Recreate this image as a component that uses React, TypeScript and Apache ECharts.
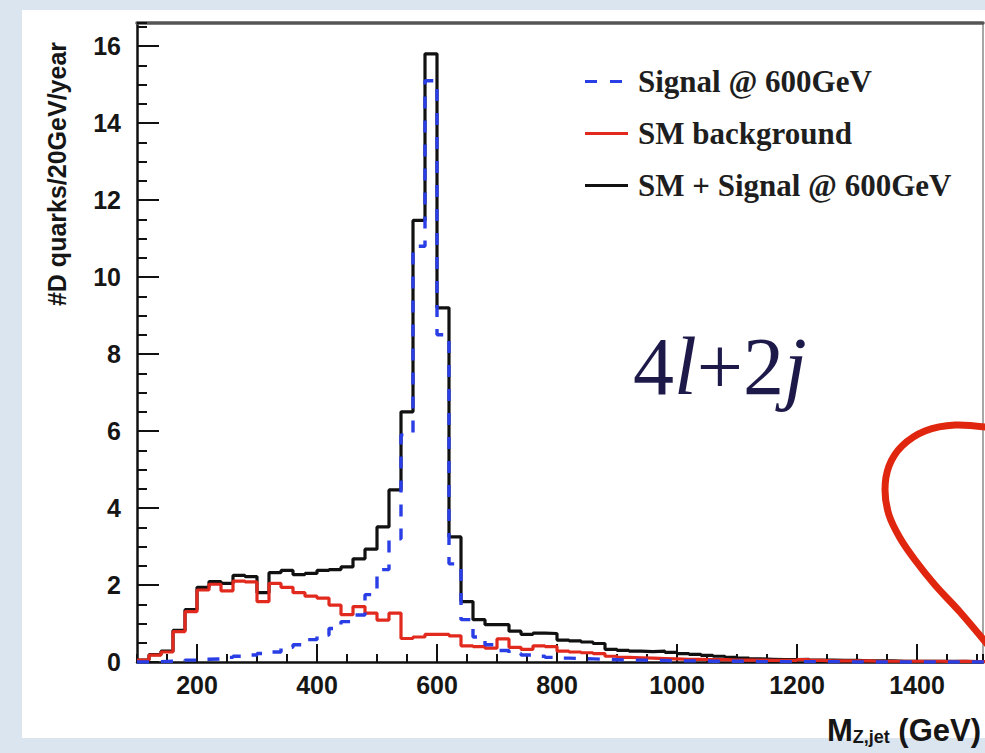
import React, { useEffect, useRef } from "react";
import * as echarts from "echarts";

// Histogram binning: 20 GeV bins starting at 100 GeV
const BIN_LOW = 100;
const BIN_WIDTH = 20;

// SM + Signal @ 600GeV (black)
const totalValues = [
  0.05, 0.19, 0.28, 0.82, 1.36, 1.94, 2.09, 2.04, 2.25, 2.22,
  1.8, 2.32, 2.38, 2.27, 2.3, 2.38, 2.4, 2.47, 2.68, 2.93,
  3.51, 4.47, 6.5, 11.47, 15.8, 9.2, 3.25, 1.57, 1.1, 0.97,
  0.97, 0.8, 0.72, 0.75, 0.74, 0.57, 0.55, 0.52, 0.48, 0.33,
  0.3, 0.28, 0.27, 0.28, 0.25, 0.22, 0.2, 0.17, 0.15, 0.12,
  0.1, 0.08, 0.07, 0.06, 0.06, 0.07, 0.05, 0.05, 0.04, 0.04,
  0.03, 0.03, 0.03, 0.02, 0.02, 0.02, 0.02, 0.02, 0.02, 0.01, 0.01,
];

// SM background (red)
const backgroundValues = [
  0.05, 0.18, 0.26, 0.79, 1.31, 1.87, 2.02, 1.85, 2.1, 2.08,
  1.57, 2.04, 1.94, 1.8, 1.71, 1.66, 1.48, 1.23, 1.44, 1.27,
  1.09, 1.27, 0.61, 0.65, 0.72, 0.72, 0.68, 0.42, 0.4, 0.36,
  0.6, 0.38, 0.33, 0.42, 0.4, 0.28, 0.26, 0.24, 0.22, 0.15,
  0.12, 0.11, 0.1, 0.09, 0.08, 0.07, 0.07, 0.06, 0.06, 0.05,
  0.05, 0.05, 0.04, 0.04, 0.04, 0.06, 0.04, 0.03, 0.03, 0.03,
  0.03, 0.02, 0.02, 0.02, 0.02, 0.02, 0.02, 0.01, 0.02, 0.01, 0.01,
];

// Signal @ 600GeV (blue dashed)
const signalValues = [
  0.0, 0.01, 0.02, 0.03, 0.05, 0.07, 0.08, 0.12, 0.15, 0.18,
  0.22, 0.26, 0.38, 0.45, 0.58, 0.7, 0.87, 1.05, 1.22, 1.75,
  2.4, 3.2, 5.9, 10.8, 15.1, 8.5, 2.55, 1.1, 0.65, 0.45,
  0.3, 0.22, 0.18, 0.15, 0.12, 0.1, 0.09, 0.08, 0.07, 0.06,
  0.05, 0.05, 0.04, 0.04, 0.03, 0.03, 0.03, 0.02, 0.02, 0.02,
  0.02, 0.01, 0.01, 0.01, 0.01, 0.01, 0.01, 0.01, 0.01, 0.0,
  0.0, 0.0, 0.0, 0.0, 0.0, 0.0, 0.0, 0.0, 0.0, 0.0, 0.0,
];

const xMajorTicks = [200, 400, 600, 800, 1000, 1200, 1400];
const yMajorTicks = [0, 2, 4, 6, 8, 10, 12, 14, 16];

const seriesNames = ["Signal @ 600GeV", "SM background", "SM + Signal @ 600GeV"];

const X_MIN = 100;
const X_MAX = 1510;
const Y_MIN = 0;
const Y_MAX = 16.6;

function toSteps(values: number[]): number[][] {
  const pts = values.map((v, i) => [BIN_LOW + i * BIN_WIDTH, v]);
  pts.push([BIN_LOW + values.length * BIN_WIDTH, values[values.length - 1]]);
  return pts;
}

const LABEL_FONT = "'Liberation Sans', Arial, sans-serif";
const SERIF = "'Liberation Serif', 'Times New Roman', serif";

const SOLID_ICON = "path://M0,0h43v3.2h-43z";
const DASHED_ICON = "path://M0,0h12v3.2h-12z M25,0h12v3.2h-12z M42.99,0h0.01v0.01h-0.01z";

function buildOption(): any {
  const labelStyle = {
    fontFamily: LABEL_FONT,
    fontWeight: "bold",
    fontSize: 25,
    color: "#161616",
  };
  return {
    animation: false,
    backgroundColor: "#dbe5ef",
    grid: { left: 137, top: 23, right: 2, bottom: 91, containLabel: false },
    legend: {
      orient: "vertical",
      left: 580,
      top: 61,
      padding: 5,
      itemWidth: 43,
      itemHeight: 30,
      itemGap: 21,
      symbolKeepAspect: true,
      data: [
        { name: seriesNames[0], icon: DASHED_ICON },
        { name: seriesNames[1], icon: SOLID_ICON },
        { name: seriesNames[2], icon: SOLID_ICON },
      ],
      textStyle: {
        fontFamily: SERIF,
        fontWeight: "bold",
        fontSize: 31,
        color: "#1e1e1e",
        padding: [0, 0, 0, 5],
      },
    },
    xAxis: [
      {
        type: "value",
        min: X_MIN,
        max: X_MAX,
        interval: 50,
        position: "bottom",
        axisLine: { show: true, onZero: false, lineStyle: { color: "#111", width: 2.5 } },
        axisTick: { show: true, inside: true, length: 8, lineStyle: { color: "#111", width: 2 } },
        axisLabel: { show: false },
        splitLine: { show: false },
      },
      {
        type: "value",
        min: X_MIN,
        max: X_MAX,
        position: "bottom",
        axisLine: { show: false, onZero: false },
        axisTick: {
          show: true,
          inside: true,
          length: 18,
          customValues: xMajorTicks,
          lineStyle: { color: "#111", width: 2 },
        },
        axisLabel: {
          show: true,
          customValues: xMajorTicks,
          margin: 10,
          formatter: (v: number) => String(v),
          ...labelStyle,
        },
        splitLine: { show: false },
      },
      {
        type: "value",
        min: X_MIN,
        max: X_MAX,
        position: "top",
        axisLine: { show: true, onZero: false, lineStyle: { color: "#555", width: 3.5 } },
        axisTick: { show: false },
        axisLabel: { show: false },
        splitLine: { show: false },
      },
    ],
    yAxis: [
      {
        type: "value",
        min: Y_MIN,
        max: Y_MAX,
        interval: 0.5,
        position: "left",
        axisLine: { show: true, onZero: false, lineStyle: { color: "#111", width: 2.5 } },
        axisTick: { show: true, inside: true, length: 10, lineStyle: { color: "#111", width: 2 } },
        axisLabel: { show: false },
        splitLine: { show: false },
      },
      {
        type: "value",
        min: Y_MIN,
        max: Y_MAX,
        position: "left",
        axisLine: { show: false, onZero: false },
        axisTick: {
          show: true,
          inside: true,
          length: 22,
          customValues: yMajorTicks,
          lineStyle: { color: "#111", width: 2 },
        },
        axisLabel: {
          show: true,
          customValues: yMajorTicks,
          margin: 16,
          formatter: (v: number) => String(v),
          ...labelStyle,
        },
        splitLine: { show: false },
      },
      {
        type: "value",
        min: Y_MIN,
        max: Y_MAX,
        position: "right",
        axisLine: { show: true, onZero: false, lineStyle: { color: "#888", width: 1.5 } },
        axisTick: { show: false },
        axisLabel: { show: false },
        splitLine: { show: false },
      },
    ],
    series: [
      {
        name: seriesNames[2],
        type: "line",
        step: "end",
        xAxisIndex: 0,
        yAxisIndex: 0,
        data: toSteps(totalValues),
        showSymbol: false,
        symbol: "none",
        lineStyle: { color: "#111111", width: 3.2 },
        itemStyle: { color: "#111111" },
        z: 3,
      },
      {
        name: seriesNames[1],
        type: "line",
        step: "end",
        xAxisIndex: 0,
        yAxisIndex: 0,
        data: toSteps(backgroundValues),
        showSymbol: false,
        symbol: "none",
        lineStyle: { color: "#e2291d", width: 3.2 },
        itemStyle: { color: "#e2291d" },
        z: 4,
      },
      {
        name: seriesNames[0],
        type: "line",
        step: "end",
        xAxisIndex: 0,
        yAxisIndex: 0,
        data: toSteps(signalValues),
        showSymbol: false,
        symbol: "none",
        lineStyle: { color: "#2a3ee6", width: 3.4, type: [12, 12] },
        itemStyle: { color: "#2a3ee6" },
        z: 5,
      },
    ],
    graphic: [
      {
        type: "rect",
        z: -10,
        silent: true,
        shape: { x: 22, y: 10, width: 963, height: 728 },
        style: { fill: "#ffffff" },
      },
      {
        type: "text",
        x: 57,
        y: 174,
        rotation: Math.PI / 2,
        silent: true,
        style: {
          text: "#D quarks/20GeV/year",
          fontFamily: LABEL_FONT,
          fontWeight: "bold",
          fontSize: 25,
          fill: "#161616",
          align: "center",
          verticalAlign: "middle",
        },
      },
      {
        type: "text",
        x: 981,
        y: 746,
        silent: true,
        style: {
          text: "{m|M}{s|Z,jet}{m| (GeV)}",
          align: "right",
          verticalAlign: "bottom",
          fill: "#161616",
          rich: {
            m: { fontFamily: LABEL_FONT, fontWeight: "bold", fontSize: 31, fill: "#161616" },
            s: {
              fontFamily: LABEL_FONT,
              fontWeight: "bold",
              fontSize: 18,
              fill: "#161616",
              verticalAlign: "bottom",
            },
          },
        },
      },
      {
        type: "text",
        x: 633,
        y: 366,
        silent: true,
        style: {
          text: "{a|4}{b|l}{a|+2}{b|j}",
          align: "left",
          verticalAlign: "middle",
          fill: "#1d1a4a",
          rich: {
            a: { fontFamily: SERIF, fontSize: 82, fill: "#1d1a4a" },
            b: { fontFamily: SERIF, fontSize: 82, fontStyle: "italic", fill: "#1d1a4a" },
          },
        },
      },
      {
        type: "polyline",
        z: 100,
        silent: true,
        shape: {
          points: [
            [992, 428],
            [955, 425],
            [925, 431],
            [902, 446],
            [889, 466],
            [885, 490],
            [889, 515],
            [900, 538],
            [915, 560],
            [935, 585],
            [960, 612],
            [992, 650],
          ],
          smooth: 0.35,
        },
        style: { stroke: "#e0260f", lineWidth: 7, fill: null, lineCap: "round" },
      },
    ],
  };
}

export default function App() {
  const ref = useRef<HTMLDivElement>(null);
  useEffect(() => {
    if (!ref.current) return;
    const chart = echarts.init(ref.current, null, { renderer: "svg" });
    chart.setOption(buildOption());
    return () => {
      chart.dispose();
    };
  }, []);
  return (
    <div
      ref={ref}
      style={{ position: "fixed", left: 0, top: 0, width: 985, height: 753 }}
    />
  );
}
